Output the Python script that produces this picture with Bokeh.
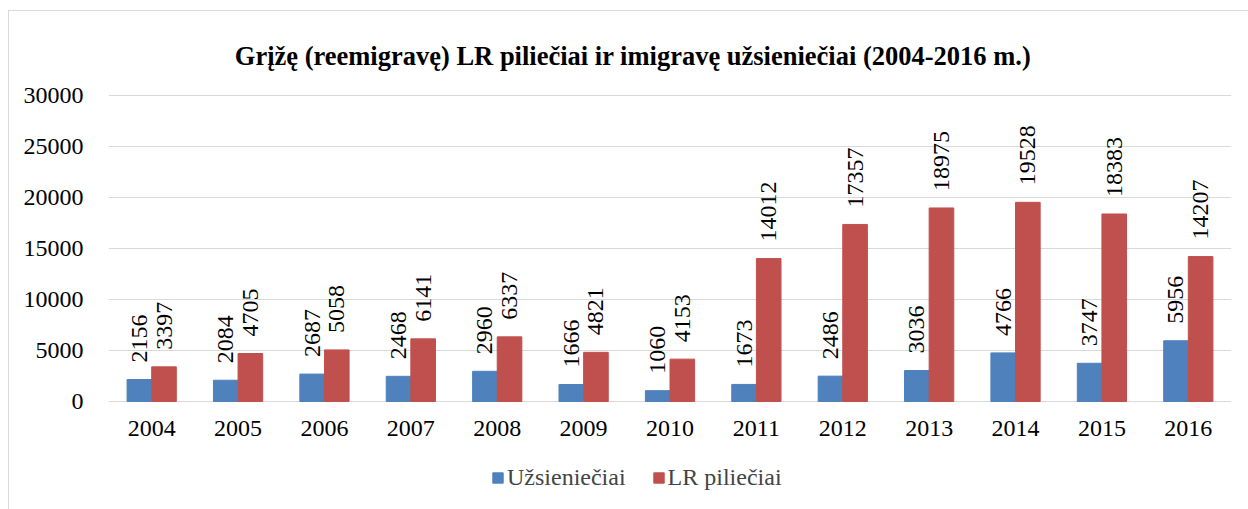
from bokeh.plotting import figure
from bokeh.models import ColumnDataSource, FactorRange, Legend, LegendItem, Range1d, FixedTicker, Label
from bokeh.transform import dodge
from bokeh.core.properties import value
from bokeh.embed import file_html
from bokeh.resources import INLINE
import math

years = ["2004", "2005", "2006", "2007", "2008", "2009", "2010",
         "2011", "2012", "2013", "2014", "2015", "2016"]
uzsienieciai = [2156, 2084, 2687, 2468, 2960, 1666, 1060, 1673, 2486, 3036, 4766, 3747, 5956]
lr_pilieciai = [3397, 4705, 5058, 6141, 6337, 4821, 4153, 14012, 17357, 18975, 19528, 18383, 14207]
y_ticks = [0, 5000, 10000, 15000, 20000, 25000, 30000]
series_names = ["Užsieniečiai", "LR piliečiai"]
title_text = "Grįžę (reemigravę) LR piliečiai ir imigravę užsieniečiai (2004-2016 m.)"

FONT = "Liberation Serif"
BLUE = "#4F81BD"
RED = "#C0504D"

src = ColumnDataSource(dict(
    years=years, u=uzsienieciai, l=lr_pilieciai,
    ut=[str(v) for v in uzsienieciai], lt=[str(v) for v in lr_pilieciai],
))

# layout in pixels: the frame spans the whole chart box so that the title,
# axis labels and legend all sit inside it; the value axis occupies 306 px.
fig_w, fig_h = 1240, 499
left_b, right_b, top_b, bot_b = 99, 18, 1, 1
frame_h = fig_h - top_b - bot_b
above_px = 83      # from frame top to the 30000 line
plot_px = 306      # 0 .. 30000
below_px = frame_h - above_px - plot_px
y_max = y_ticks[-1]
per_px = y_max / plot_px
cat_px = (fig_w - left_b - right_b) / len(years)

p = figure(x_range=FactorRange(*years),
           y_range=Range1d(-below_px * per_px, y_max + above_px * per_px),
           width=fig_w, height=fig_h, output_backend="svg", toolbar_location=None,
           min_border_left=left_b, min_border_right=right_b,
           min_border_top=top_b, min_border_bottom=bot_b)
p.margin = (10, 0, 0, 8)
p.styles = {"border-top": "1px solid #d9d9d9", "border-left": "1px solid #d9d9d9"}

title = Label(x=(631.5 - 107) / cat_px, y=y_max + 40 * per_px, text=title_text,
              text_align="center", text_baseline="alphabetic",
              text_font=FONT, text_font_size="26.5px", text_font_style="bold",
              text_color="#000000")
p.add_layout(title)

w = 0.285
rb = p.vbar(x=dodge("years", -w / 2, range=p.x_range), top="u", width=w, source=src,
            fill_color=BLUE, line_color=BLUE)
rr = p.vbar(x=dodge("years", w / 2, range=p.x_range), top="l", width=w, source=src,
            fill_color=RED, line_color=RED)

for col, tcol, off in (("u", "ut", -w / 2), ("l", "lt", w / 2)):
    p.text(x=dodge("years", off, range=p.x_range), y=col, text=tcol, source=src,
           angle=math.pi / 2, text_align="left", text_baseline="middle",
           y_offset=-17, text_font=value(FONT), text_font_size="24px", text_color="#000000")

p.outline_line_color = None
p.xgrid.grid_line_color = None
p.ygrid.grid_line_color = "#D9D9D9"
p.ygrid.grid_line_width = 1
p.yaxis.ticker = FixedTicker(ticks=y_ticks)

for ax in (p.xaxis[0], p.yaxis[0]):
    ax.axis_line_color = None
    ax.major_tick_line_color = None
    ax.minor_tick_line_color = None
    ax.major_label_text_font = FONT
    ax.major_label_text_font_size = "24px"
    ax.major_label_text_color = "#000000"
p.yaxis.major_label_standoff = 19
p.xaxis.major_label_standoff = 13
p.xaxis.fixed_location = 0
p.x_range.range_padding = 0
p.x_range.group_padding = 0

legend = Legend(items=[LegendItem(label=series_names[0], renderers=[rb]),
                       LegendItem(label=series_names[1], renderers=[rr])],
                orientation="horizontal", location=(383, 18),
                label_text_font=FONT, label_text_font_size="24px",
                glyph_width=13, glyph_height=13, label_standoff=3, spacing=26,
                padding=0, margin=0, border_line_color=None, background_fill_alpha=0)
p.add_layout(legend, "center")

open("out.html", "w").write(file_html(p, INLINE))
